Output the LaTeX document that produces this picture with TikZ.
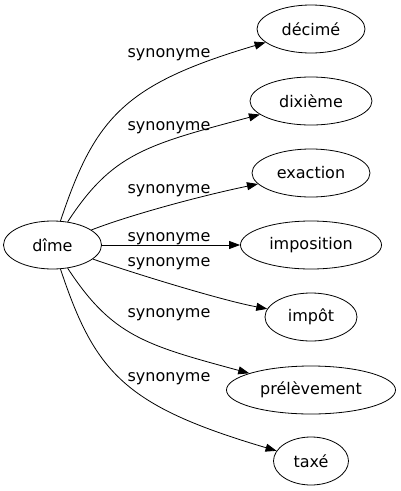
\documentclass[tikz,border=0pt]{standalone}
\usepackage{fontspec}
\setmainfont{DejaVu Sans}
\usetikzlibrary{shapes.geometric,arrows.meta}
\begin{document}
\begin{tikzpicture}[x=1pt,y=-1pt,
  word/.style={draw, ellipse, inner sep=0pt, line width=0.8pt, minimum height=48pt, font=\fontsize{16}{19}\selectfont},
  rel/.style={font=\fontsize{16}{19}\selectfont, anchor=base, inner sep=0pt},
  link/.style={-{Triangle[length=11pt,width=8pt]}, line width=0.8pt}]
\useasboundingbox (0,0) rectangle (401,491);
\node[word, minimum width=98pt] (dime) at (52.5,245) {dîme};
\node[word, minimum width=108pt] (decime) at (311,29) {décimé};
\node[word, minimum width=122pt] (dixieme) at (311,101) {dixième};
\node[word, minimum width=118pt] (exaction) at (311,173) {exaction};
\node[word, minimum width=141pt] (imposition) at (311,245) {imposition};
\node[word, minimum width=92pt] (impot) at (311,317) {impôt};
\node[word, minimum width=169pt] (prelevement) at (311,390) {prélèvement};
\node[word, minimum width=75pt] (taxe) at (311,461) {taxé};

\draw[link] (dime) .. controls (95,117) and (125,84) .. (decime);
\draw[link] (dime) .. controls (112,154) and (145,145) .. (dixieme);
\draw[link] (dime) .. controls (130,215) and (200,196) .. (exaction);
\draw[link] (dime) -- (imposition);
\draw[link] (dime) .. controls (130,272) and (220,300) .. (impot);
\draw[link] (dime) .. controls (112,336) and (145,345) .. (prelevement);
\draw[link] (dime) .. controls (95,373) and (125,406) .. (taxe);

\node[rel] (l1) at (169,57) {synonyme};
\node[rel] (l2) at (169,130) {synonyme};
\node[rel] (l3) at (169,193) {synonyme};
\node[rel] (l4) at (169,241) {synonyme};
\node[rel] (l5) at (169,266) {synonyme};
\node[rel] (l6) at (169,317) {synonyme};
\node[rel] (l7) at (169,381) {synonyme};
\end{tikzpicture}
\end{document}
